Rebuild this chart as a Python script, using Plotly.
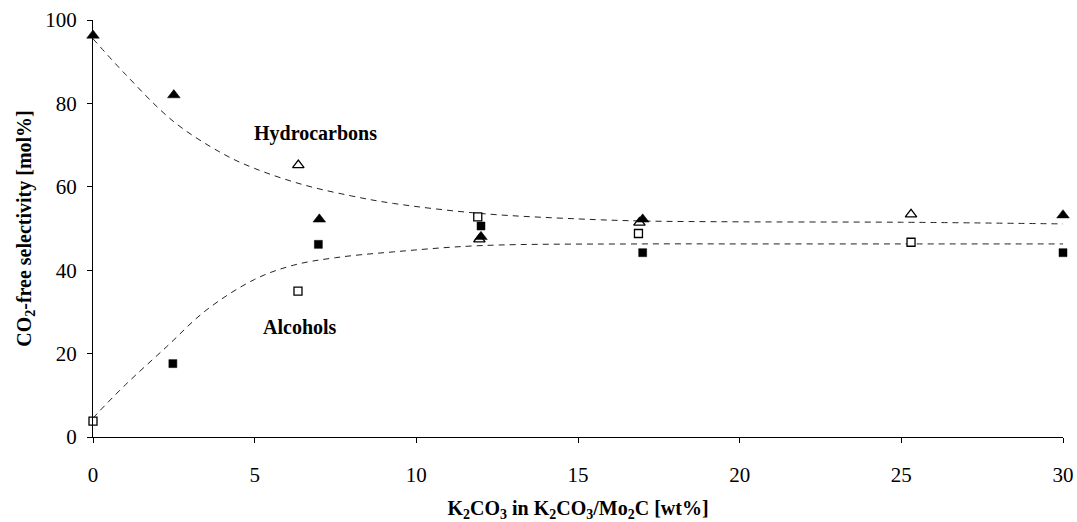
import plotly.graph_objects as go

# Hydrocarbons (filled / open triangles)
hc_fill_x = [0, 2.5, 7.0, 12.0, 17.0, 30.0]
hc_fill_y = [96.3, 82.0, 52.2, 48.0, 52.2, 53.2]
hc_open_x = [6.35, 11.95, 16.9, 25.3]
hc_open_y = [65.2, 47.4, 51.4, 53.4]

# Alcohols (filled / open squares)
al_fill_x = [2.47, 6.97, 12.0, 17.0, 30.0]
al_fill_y = [17.6, 46.2, 50.6, 44.2, 44.2]
al_open_x = [0, 6.34, 11.9, 16.87, 25.3]
al_open_y = [3.8, 35.0, 52.8, 48.8, 46.7]

# Trend curves
hc_trend_x = [0, 1, 2.5, 4, 5, 6.5, 8, 9.3, 12, 15, 17, 20, 25, 30]
hc_trend_y = [95.5, 87.0, 75.6, 68.0, 64.4, 60.5, 57.8, 56.0, 53.6, 52.3, 51.8, 51.6, 51.5, 51.1]
al_trend_x = [0, 0.2, 1, 2.27, 3.5, 5, 6.2, 7.5, 9.3, 12, 17, 20, 25, 30]
al_trend_y = [4.5, 6.2, 12.5, 21.6, 30.4, 37.8, 41.2, 43.0, 44.4, 45.9, 46.3, 46.3, 46.3, 46.3]

x_ticks = [0, 5, 10, 15, 20, 25, 30]
y_ticks = [0, 20, 40, 60, 80, 100]

FONT = "Liberation Serif, Times New Roman, serif"

fig = go.Figure()
dash_line = dict(color="#222", width=1, dash="6px,5px")
fig.add_trace(go.Scatter(x=hc_trend_x, y=hc_trend_y, mode="lines", line=dict(shape="spline", smoothing=1.0, **dash_line), hoverinfo="skip"))
fig.add_trace(go.Scatter(x=al_trend_x, y=al_trend_y, mode="lines", line=dict(shape="spline", smoothing=1.0, **dash_line), hoverinfo="skip"))

fig.add_trace(go.Scatter(x=hc_open_x, y=hc_open_y, mode="markers", cliponaxis=False,
                         marker=dict(symbol="triangle-up", size=10, color="white", line=dict(color="black", width=1.3))))
fig.add_trace(go.Scatter(x=al_open_x, y=al_open_y, mode="markers", cliponaxis=False,
                         marker=dict(symbol="square", size=8, color="white", line=dict(color="black", width=1.3))))
fig.add_trace(go.Scatter(x=hc_fill_x, y=hc_fill_y, mode="markers", cliponaxis=False,
                         marker=dict(symbol="triangle-up", size=11, color="black", line=dict(color="black", width=0.5))))
fig.add_trace(go.Scatter(x=al_fill_x, y=al_fill_y, mode="markers", cliponaxis=False,
                         marker=dict(symbol="square", size=8, color="black", line=dict(color="black", width=0.5))))

fig.add_annotation(x=6.89, y=72.9, text="<b>Hydrocarbons</b>", showarrow=False,
                   font=dict(family=FONT, size=20, color="black"))
fig.add_annotation(x=6.41, y=26.4, text="<b>Alcohols</b>", showarrow=False,
                   font=dict(family=FONT, size=20, color="black"))

fig.update_layout(
    width=1077, height=522,
    margin=dict(l=93, r=14, t=20, b=85),
    paper_bgcolor="white", plot_bgcolor="white",
    showlegend=False,
    font=dict(family=FONT, color="black"),
)
fig.update_xaxes(range=[0, 30], tickvals=x_ticks, ticks="outside", ticklen=5, tickcolor="black",
                 showline=True, linecolor="black", linewidth=1, showgrid=False, zeroline=False,
                 automargin=False,
                 tickfont=dict(family=FONT, size=21), ticklabelstandoff=14,
                 title=dict(text="<b>K<sub>2</sub>CO<sub>3</sub> in K<sub>2</sub>CO<sub>3</sub>/Mo<sub>2</sub>C [wt%]</b>",
                            font=dict(family=FONT, size=20), standoff=16))
fig.update_yaxes(range=[0, 100], tickvals=y_ticks, ticks="outside", ticklen=5, tickcolor="black",
                 showline=True, linecolor="black", linewidth=1, showgrid=False, zeroline=False,
                 automargin=False,
                 tickfont=dict(family=FONT, size=21), ticklabelstandoff=6,
                 title=dict(text="<b>CO<sub>2</sub>-free selectivity [mol%]</b>",
                            font=dict(family=FONT, size=20), standoff=8))

fig.write_html("out.html")
